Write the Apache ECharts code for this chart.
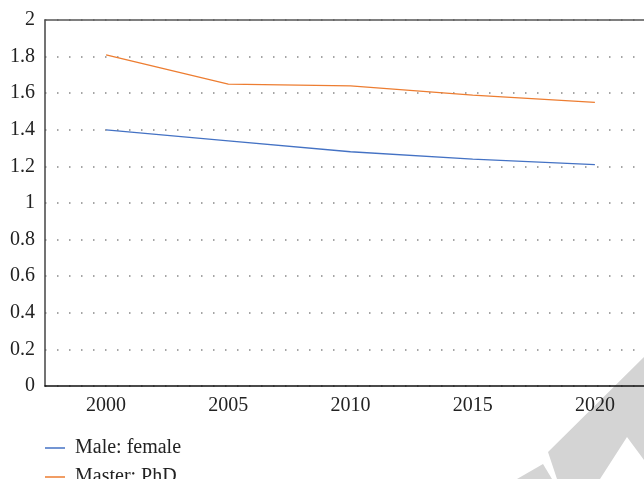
<!DOCTYPE html>
<html>
<head>
<meta charset="utf-8">
<script src="https://cdn.jsdelivr.net/npm/echarts@6/dist/echarts.min.js"></script>
<style>
  html, body { margin: 0; padding: 0; background: #fff; }
  #chart { width: 644px; height: 479px; }
</style>
</head>
<body>
<div id="chart"></div>
<script>
var years = ['2000', '2005', '2010', '2015', '2020'];
var maleFemale = [1.40, 1.34, 1.28, 1.24, 1.21];
var masterPhd = [1.81, 1.65, 1.64, 1.59, 1.55];

var chart = echarts.init(document.getElementById('chart'));
var serif = '"Liberation Serif", "DejaVu Serif", serif';

function legendAt(name, top) {
  return {
    left: 40,
    top: top,
    itemWidth: 20,
    itemHeight: 1.5,
    icon: 'rect',
    textStyle: { fontFamily: serif, fontSize: 20, color: '#222', padding: [0, 0, 0, 5] },
    data: [name]
  };
}

var option = {
  animation: false,
  grid: { left: 45, width: 611, top: 20, bottom: 93, outerBoundsMode: 'none' },
  legend: [legendAt('Male: female', 433), legendAt('Master: PhD', 462)],
  xAxis: [
    {
      type: 'category',
      data: years,
      axisLine: { lineStyle: { color: '#111', width: 1.5 } },
      axisTick: { show: false },
      axisLabel: { fontFamily: serif, fontSize: 20, color: '#222', margin: 10 }
    },
    {
      type: 'category',
      position: 'top',
      data: years,
      axisLine: { lineStyle: { color: '#555', width: 1.5 } },
      axisTick: { show: false },
      axisLabel: { show: false }
    }
  ],
  yAxis: {
    type: 'value',
    min: 0,
    max: 2,
    interval: 0.2,
    axisLine: { show: true, lineStyle: { color: '#444', width: 1.5 } },
    axisTick: { show: false },
    axisLabel: { fontFamily: serif, fontSize: 20, color: '#222', margin: 10 },
    splitLine: { show: true, lineStyle: { color: '#888', type: [1.5, 10.5], width: 1.5 } }
  },
  series: [
    {
      name: 'Male: female',
      type: 'line',
      data: maleFemale,
      symbol: 'none',
      itemStyle: { color: '#4472c4' },
      lineStyle: { color: '#4472c4', width: 1.3 }
    },
    {
      name: 'Master: PhD',
      type: 'line',
      data: masterPhd,
      symbol: 'none',
      itemStyle: { color: '#ed7d31' },
      lineStyle: { color: '#ed7d31', width: 1.3 }
    }
  ],
  graphic: [
    {
      type: 'polygon',
      z: -10,
      shape: { points: [[644, 357], [548, 452], [557, 479], [600, 479], [627, 437], [644, 460]] },
      style: { fill: '#d4d4d4' }
    },
    {
      type: 'polygon',
      z: -10,
      shape: { points: [[517, 479], [543, 464], [552, 479]] },
      style: { fill: '#d4d4d4' }
    }
  ]
};
chart.setOption(option);
</script>
</body>
</html>
